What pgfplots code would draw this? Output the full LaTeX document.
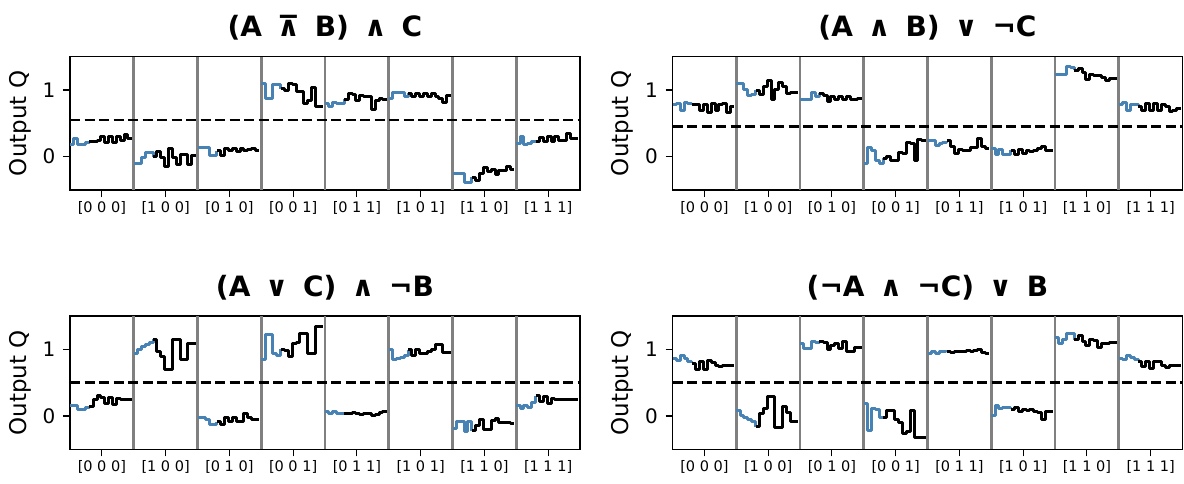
\documentclass[border=0pt]{standalone}
\usepackage{pgfplots}
\pgfplotsset{compat=1.18}
\usepackage{pgfplotstable}
\usepackage{fontspec}
\setmainfont{DejaVu Sans}
\definecolor{qblue}{RGB}{70,130,180}
\definecolor{sepgray}{RGB}{128,128,128}

\pgfplotstableread{
t a b c d e f g h
0 0.19 -0.10 0.14 1.10 0.80 0.87 -0.25 0.20
1 0.28 -0.10 0.14 0.87 0.76 0.97 -0.25 0.30
2 0.18 -0.01 0.14 0.87 0.81 0.97 -0.25 0.19
3 0.18 0.07 0.02 1.09 0.80 0.96 -0.39 0.20
4 0.22 0.07 0.02 1.09 0.80 0.90 -0.39 0.23
5 0.23 0.00 0.09 1.02 0.86 0.95 -0.31 0.23
6 0.23 0.08 0.02 1.00 0.95 0.90 -0.36 0.29
7 0.24 -0.01 0.13 1.10 0.94 0.95 -0.25 0.23
8 0.30 -0.14 0.09 1.09 0.85 0.90 -0.16 0.30
9 0.22 0.12 0.13 0.98 0.92 0.95 -0.22 0.23
10 0.30 -0.01 0.08 0.98 0.90 0.90 -0.19 0.30
11 0.22 -0.11 0.12 0.80 0.90 0.95 -0.26 0.25
12 0.30 0.04 0.09 0.84 0.71 0.90 -0.20 0.25
13 0.25 0.04 0.11 1.04 0.85 0.87 -0.20 0.35
14 0.34 -0.11 0.13 0.75 0.88 0.82 -0.14 0.27
15 0.27 0.02 0.10 0.75 0.86 0.92 -0.19 0.27
16 0.27 0.02 0.10 0.75 0.86 0.92 -0.19 0.27
}\tableA

\pgfplotstableread{
t a b c d e f g h
0 0.78 1.10 0.86 -0.10 0.25 0.12 1.24 0.78
1 0.80 1.10 0.86 0.14 0.25 0.04 1.24 0.81
2 0.70 1.01 0.86 0.10 0.17 0.11 1.24 0.70
3 0.81 0.92 0.97 -0.05 0.20 0.04 1.36 0.78
4 0.80 0.93 0.90 -0.10 0.22 0.04 1.34 0.78
5 0.78 1.00 0.95 -0.02 0.24 0.10 1.30 0.76
6 0.78 0.93 0.92 0.01 0.15 0.04 1.32 0.70
7 0.70 1.06 0.83 -0.05 0.05 0.11 1.26 0.80
8 0.79 1.14 0.90 -0.05 0.11 0.05 1.16 0.69
9 0.67 0.86 0.86 0.07 0.10 0.10 1.24 0.80
10 0.80 1.01 0.91 0.05 0.10 0.08 1.22 0.69
11 0.70 1.11 0.86 0.22 0.14 0.09 1.22 0.79
12 0.78 1.05 0.90 0.20 0.14 0.12 1.19 0.75
13 0.80 0.95 0.86 -0.05 0.27 0.16 1.14 0.68
14 0.66 0.97 0.86 0.26 0.15 0.10 1.18 0.70
15 0.75 0.97 0.88 0.25 0.13 0.10 1.17 0.72
16 0.75 0.97 0.88 0.25 0.13 0.10 1.17 0.72
}\tableB

\pgfplotstableread{
t a b c d e f g h
0 0.15 0.93 -0.02 0.84 0.07 0.99 -0.19 0.15
1 0.15 1.00 -0.02 1.22 0.03 0.84 -0.08 0.11
2 0.10 1.04 -0.05 1.22 0.06 0.86 -0.08 0.15
3 0.10 1.07 -0.13 0.94 0.03 0.87 -0.23 0.12
4 0.12 1.10 -0.13 0.90 0.04 0.90 -0.08 0.20
5 0.14 1.15 -0.09 1.00 0.04 0.99 -0.22 0.30
6 0.24 0.97 -0.13 0.98 0.04 0.91 -0.14 0.21
7 0.30 0.89 -0.03 0.89 0.05 0.99 -0.05 0.29
8 0.28 0.70 -0.09 1.09 0.03 0.93 -0.20 0.19
9 0.18 0.70 -0.02 1.10 0.02 0.94 -0.20 0.26
10 0.28 1.15 -0.09 1.24 0.04 0.96 -0.07 0.25
11 0.17 1.15 -0.09 1.24 0.03 0.99 -0.04 0.25
12 0.26 0.85 0.03 0.94 0.01 1.07 -0.10 0.24
13 0.24 0.85 -0.02 0.94 0.02 1.07 -0.10 0.24
14 0.25 1.08 -0.05 1.34 0.05 0.95 -0.10 0.24
15 0.25 1.08 -0.05 1.34 0.06 0.95 -0.12 0.24
16 0.25 1.08 -0.05 1.34 0.06 0.95 -0.12 0.24
}\tableC

\pgfplotstableread{
t a b c d e f g h
0 0.86 0.08 1.08 0.18 0.94 0.01 1.18 0.86
1 0.83 0.00 1.01 -0.22 0.96 0.15 1.09 0.84
2 0.90 -0.03 1.01 0.11 0.94 0.11 1.15 0.90
3 0.86 -0.06 1.11 0.10 0.97 0.13 1.24 0.88
4 0.82 -0.09 1.10 -0.02 0.97 0.13 1.24 0.84
5 0.79 -0.16 1.12 -0.02 0.96 0.10 1.14 0.82
6 0.70 0.04 1.10 0.08 0.95 0.13 1.21 0.74
7 0.82 0.11 1.00 0.08 0.96 0.07 1.12 0.81
8 0.69 0.29 1.06 -0.05 0.97 0.10 1.05 0.71
9 0.83 0.29 1.09 -0.10 0.97 0.08 1.15 0.82
10 0.80 -0.17 1.01 -0.26 0.98 0.09 1.13 0.81
11 0.76 -0.17 1.11 -0.24 0.97 0.07 1.02 0.75
12 0.74 0.14 0.96 0.08 0.98 0.05 1.08 0.73
13 0.76 0.05 0.96 -0.32 0.99 -0.05 1.08 0.76
14 0.75 -0.09 1.03 -0.32 0.95 0.07 1.10 0.75
15 0.75 -0.09 1.03 -0.32 0.94 0.07 1.10 0.75
16 0.75 -0.09 1.03 -0.32 0.94 0.07 1.10 0.75
}\tableD

\newcommand\tsp{\hspace{15pt}}

\pgfplotsset{
  gate/.style={
    scale only axis, width=510pt, height=133.3pt,
    xmin=0, xmax=8, ymin=-0.5, ymax=1.5,
    axis line style={line width=1.2pt},
    xtick={0.5,1.5,2.5,3.5,4.5,5.5,6.5,7.5},
    xticklabels={{[0 0 0]},{[1 0 0]},{[0 1 0]},{[0 0 1]},{[0 1 1]},{[1 0 1]},{[1 1 0]},{[1 1 1]}},
    ytick={0,1}, yticklabels={0,1},
    tick align=outside, xtick pos=bottom, ytick pos=left,
    major tick length=7pt,
    every tick/.style={black, line width=1.2pt},
    xticklabel style={font=\fontsize{14.5}{17}\selectfont, yshift=-1pt},
    yticklabel style={font=\fontsize{20}{24}\selectfont, anchor=east, xshift=-4pt},
    ylabel={Output Q},
    ylabel style={font=\fontsize{23}{27}\selectfont, at={(axis description cs:-0.098,0.5)}, anchor=center, rotate=0},
    title style={font=\fontsize{28}{33}\selectfont\bfseries, at={(axis description cs:0.5,1)}, anchor=base, yshift=14pt},
    clip=false,
  },
  stepb/.style={qblue, line width=3pt, const plot, line join=round},
  stepk/.style={black, line width=3pt, const plot, line join=round},
  thresh/.style={black, line width=2.8pt, dash pattern=on 10pt off 4.5pt},
}

\newcommand\panel[3]{%
  \addplot[stepb, skip coords between index={6}{17}] table[x expr={#3+\thisrow{t}*0.060625}, y=#2]{#1};
  \addplot[stepk, skip coords between index={0}{5}] table[x expr={#3+\thisrow{t}*0.060625}, y=#2]{#1};
}
\newcommand\separators{%
  \addplot[sepgray, line width=2.8pt] coordinates {(1,-0.5) (1,1.5)};
  \addplot[sepgray, line width=2.8pt] coordinates {(2,-0.5) (2,1.5)};
  \addplot[sepgray, line width=2.8pt] coordinates {(3,-0.5) (3,1.5)};
  \addplot[sepgray, line width=2.8pt] coordinates {(4,-0.5) (4,1.5)};
  \addplot[sepgray, line width=2.8pt] coordinates {(5,-0.5) (5,1.5)};
  \addplot[sepgray, line width=2.8pt] coordinates {(6,-0.5) (6,1.5)};
  \addplot[sepgray, line width=2.8pt] coordinates {(7,-0.5) (7,1.5)};
}
\newcommand\allpanels[1]{%
  \panel{#1}{a}{0}\panel{#1}{b}{1}\panel{#1}{c}{2}\panel{#1}{d}{3}%
  \panel{#1}{e}{4}\panel{#1}{f}{5}\panel{#1}{g}{6}\panel{#1}{h}{7}%
}

\begin{document}
\begin{tikzpicture}[x=1pt,y=1pt]
\path[use as bounding box] (0,0) rectangle (1184,483);

\begin{axis}[gate, at={(70pt,293pt)}, anchor=south west, title={(A\tsp⊼\tsp B)\tsp∧\tsp C}]
\separators
\allpanels{\tableA}
\addplot[thresh] coordinates {(0,0.55) (8,0.55)};
\end{axis}

\begin{axis}[gate, at={(672.5pt,293pt)}, anchor=south west, title={(A\tsp∧\tsp B)\tsp∨\tsp¬C}]
\separators
\allpanels{\tableB}
\addplot[thresh] coordinates {(0,0.45) (8,0.45)};
\end{axis}

\begin{axis}[gate, at={(70pt,33.7pt)}, anchor=south west, title={(A\tsp∨\tsp C)\tsp∧\tsp¬B}]
\separators
\allpanels{\tableC}
\addplot[thresh] coordinates {(0,0.5) (8,0.5)};
\end{axis}

\begin{axis}[gate, at={(672.5pt,33.7pt)}, anchor=south west, title={(¬A\tsp∧\tsp¬C)\tsp∨\tsp B}]
\separators
\allpanels{\tableD}
\addplot[thresh] coordinates {(0,0.5) (8,0.5)};
\end{axis}
\end{tikzpicture}
\end{document}
